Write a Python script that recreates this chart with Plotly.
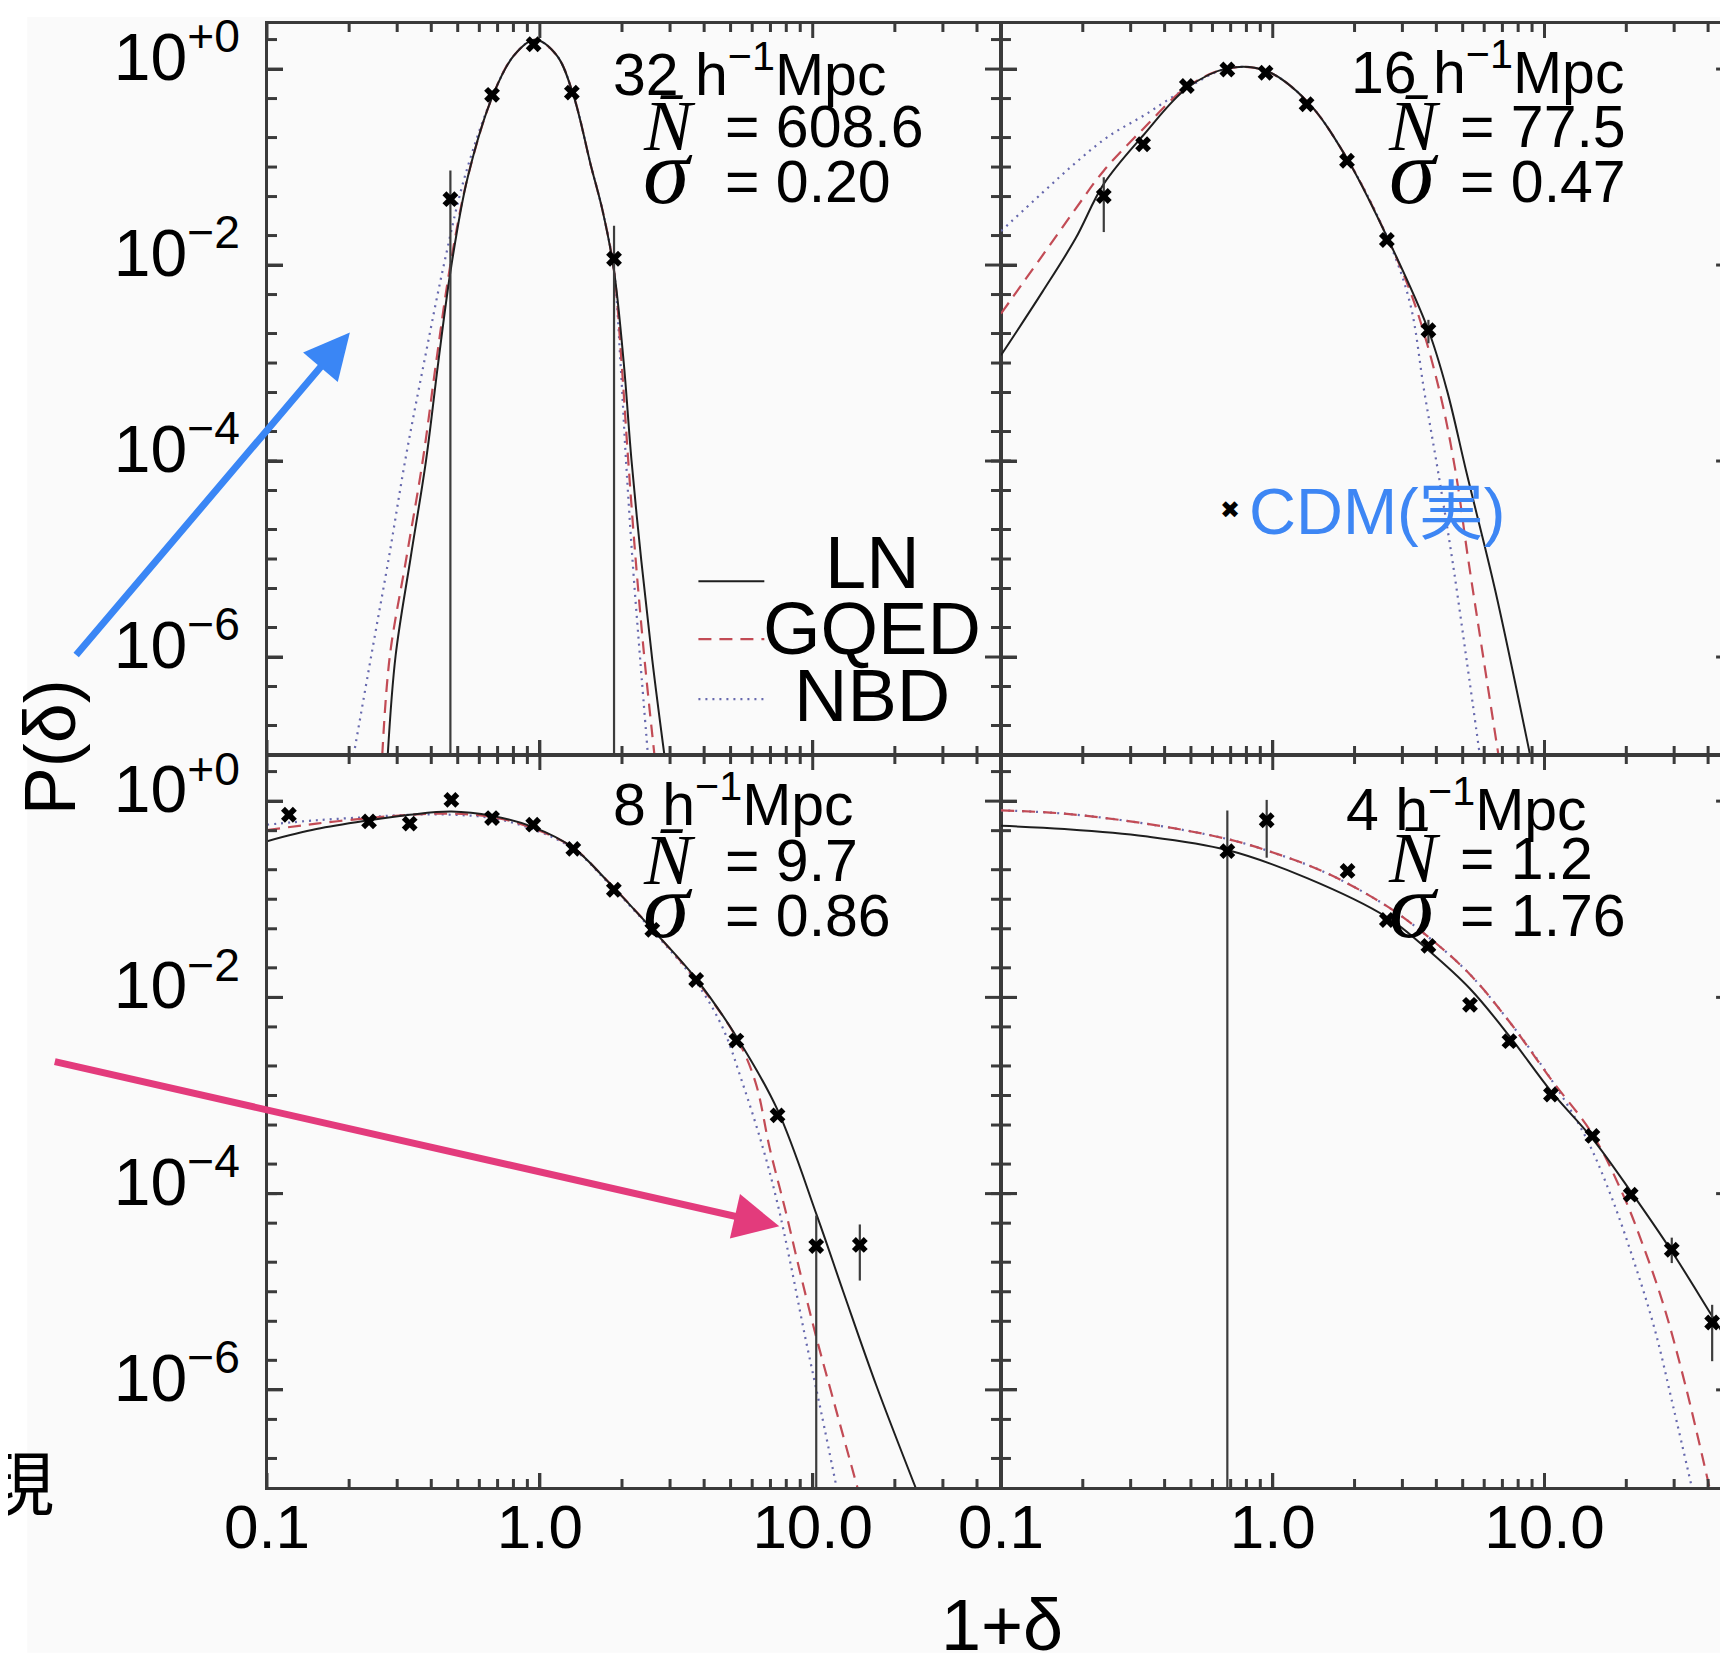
import plotly.graph_objects as go

# ---------------- data ----------------
scales = ["32", "16", "8", "4"]
nbar_vals = ["608.6", "77.5", "9.7", "1.2"]
sigma_vals = ["0.20", "0.47", "0.86", "1.76"]

x_major = [0.1, 1.0, 10.0]
x_labels = ["0.1", "1.0", "10.0"]
x_minor = [0.2, 0.3, 0.4, 0.5, 0.6, 0.7, 0.8, 0.9, 2, 3, 4, 5, 6, 7, 8, 9, 20, 30, 40]
y_major = [1, 1e-2, 1e-4, 1e-6]
y_labels = ["10<sup>+0</sup>", "10<sup>−2</sup>", "10<sup>−4</sup>", "10<sup>−6</sup>"]
y_minor = [2, 0.5, 0.2, 0.1, 0.05, 0.02, 5e-3, 2e-3, 1e-3, 5e-4, 2e-4, 1e-4, 5e-5, 2e-5, 1e-5,
           5e-6, 2e-6, 5e-7, 2e-7]

# --- 32 h^-1 Mpc (top left)
tl_x = [0.47, 0.668, 0.949, 1.31, 1.87]
tl_y = [0.047, 0.546, 1.79, 0.575, 0.0116]
tl_ep = [0.045, 0, 0, 0, 0.0136]
tl_em = [0.047, 0, 0, 0, 0.0116]
tl_ln_x = [0.277, 0.296, 0.336, 0.383, 0.424, 0.474, 0.544, 0.674, 0.804, 0.958, 1.153, 1.326,
           1.537, 1.70, 1.867, 2.03, 2.166, 2.355, 2.583, 2.86]
tl_ln_y = [1.0e-7, 1.03e-6, 1.03e-5, 1.03e-4, 1.0e-3, 0.0099, 0.0787, 0.546, 1.38, 1.99, 1.38,
           0.546, 0.1045, 0.0353, 0.00897, 1.0e-3, 1.03e-4, 9.5e-6, 9.3e-7, 1.0e-7]
tl_gq_x = [0.2645, 0.282, 0.3243, 0.3726, 0.4164, 0.4696, 0.544, 0.674, 0.804, 0.958, 1.153, 1.326,
           1.537, 1.70, 1.867, 1.993, 2.107, 2.247, 2.42, 2.63]
tl_gq_y = [1.0e-7, 1.03e-6, 1.03e-5, 1.03e-4, 1.0e-3, 0.0099, 0.0787, 0.546, 1.38, 1.99, 1.38,
           0.546, 0.1045, 0.0353, 0.00897, 1.0e-3, 1.03e-4, 9.5e-6, 9.3e-7, 1.0e-7]
tl_nb_x = [0.2078, 0.241, 0.2796, 0.3213, 0.376, 0.4443, 0.53, 0.674, 0.804, 0.958, 1.153, 1.326,
           1.537, 1.70, 1.867, 1.975, 2.068, 2.187, 2.333, 2.489]
tl_nb_y = [1.0e-7, 1.03e-6, 1.03e-5, 1.03e-4, 1.0e-3, 0.0099, 0.0787, 0.546, 1.38, 1.99, 1.38,
           0.546, 0.1045, 0.0353, 0.00897, 1.0e-3, 1.03e-4, 9.5e-6, 9.3e-7, 1.0e-7]

# --- 16 h^-1 Mpc (top right)
tr_x = [0.2389, 0.3334, 0.483, 0.6806, 0.941, 1.332, 1.876, 2.63, 3.74]
tr_y = [0.0507, 0.1707, 0.672, 0.99, 0.916, 0.4375, 0.116, 0.018, 0.00216]
tr_ep = [0.028, 0, 0, 0, 0, 0, 0, 0, 0.0006]
tr_em = [0.029, 0, 0, 0, 0, 0, 0, 0, 0.00057]
tr_ln_x = [0.1, 0.1422, 0.1878, 0.2389, 0.3334, 0.483, 0.6806, 0.941, 1.338, 1.867, 2.63, 3.74,
           4.38, 5.17, 6.58, 8.85]
tr_ln_y = [0.0012, 0.00535, 0.0185, 0.0673, 0.21, 0.638, 1.016, 0.964, 0.468, 0.1252, 0.0195,
           0.00216, 5.23e-4, 7.53e-5, 4.86e-6, 1.0e-7]
tr_gq_x = [0.1, 0.1422, 0.1878, 0.2389, 0.3334, 0.483, 0.6806, 0.941, 1.338, 1.867, 2.63, 3.317,
           4.105, 4.717, 5.222, 5.89, 6.77]
tr_gq_y = [0.00319, 0.01256, 0.0372, 0.0918, 0.245, 0.654, 1.016, 0.964, 0.468, 0.1252, 0.0195,
           0.00413, 5.23e-4, 7.53e-5, 1.056e-5, 1.2e-6, 1.0e-7]
tr_nb_x = [0.1, 0.1422, 0.1878, 0.2479, 0.3396, 0.483, 0.6806, 0.941, 1.338, 1.867, 2.63, 3.197,
           3.606, 4.067, 4.587, 5.17, 5.78]
tr_nb_y = [0.0222, 0.0548, 0.110, 0.2046, 0.343, 0.638, 1.016, 0.964, 0.468, 0.1252, 0.0195,
           0.00413, 5.23e-4, 7.53e-5, 9.5e-6, 9.3e-7, 1.0e-7]

# --- 8 h^-1 Mpc (bottom left)
bl_x = [0.1203, 0.2366, 0.3334, 0.474, 0.668, 0.9454, 1.326, 1.867, 2.583, 3.74, 5.25, 7.43,
        10.3, 14.88]
bl_y = [0.726, 0.6216, 0.590, 1.029, 0.672, 0.575, 0.326, 0.125, 0.0488, 0.01504, 0.00363,
        6.27e-4, 2.92e-5, 3.0e-5]
bl_ep = [0, 0, 0, 0, 0, 0, 0, 0, 0, 0, 0, 0, 3.05e-5, 1.85e-5]
bl_em = [0, 0, 0, 0, 0, 0, 0, 0, 0, 0, 0, 0, 2.92e-5, 1.7e-5]
bl_ln_x = [0.1, 0.1517, 0.2366, 0.3334, 0.474, 0.668, 0.941, 1.326, 1.766, 2.583, 3.74, 5.27,
           7.43, 10.36, 12.94, 17.09, 23.86]
bl_ln_y = [0.3903, 0.519, 0.638, 0.726, 0.784, 0.707, 0.546, 0.334, 0.154, 0.0494, 0.01544,
           0.003925, 7.13e-4, 5.97e-5, 1.0e-5, 1.115e-6, 1.0e-7]
bl_gq_x = [0.1, 0.1517, 0.2366, 0.3334, 0.474, 0.668, 0.941, 1.326, 1.766, 2.583, 3.74, 5.27,
           6.17, 6.96, 7.92, 8.94, 10.27, 11.8, 14.6]
bl_gq_y = [0.5056, 0.590, 0.672, 0.726, 0.745, 0.689, 0.532, 0.334, 0.154, 0.0494, 0.01504,
           0.003825, 0.00136, 2.88e-4, 6.97e-5, 1.68e-5, 3.57e-6, 8.6e-7, 1.0e-7]
bl_nb_x = [0.1, 0.1517, 0.2366, 0.3334, 0.474, 0.668, 0.941, 1.326, 1.766, 2.583, 3.74, 4.67,
           5.52, 6.58, 7.43, 8.30, 9.36, 10.75, 12.24]
bl_nb_y = [0.575, 0.638, 0.689, 0.726, 0.726, 0.672, 0.519, 0.326, 0.150, 0.0481, 0.01429,
           0.00495, 0.00136, 2.88e-4, 7.93e-5, 1.91e-5, 3.57e-6, 5.85e-7, 1.0e-7]

# --- 4 h^-1 Mpc (bottom right)
br_x = [0.6806, 0.950, 1.885, 2.63, 3.74, 5.32, 7.43, 10.56, 15.01, 20.76, 29.4, 41.4]
br_y = [0.3093, 0.638, 0.1943, 0.0614, 0.0335, 0.0084, 0.003576, 0.001024, 3.87e-4, 9.75e-5,
        2.68e-5, 4.86e-6]
br_ep = [0.495, 0.391, 0, 0, 0, 0, 0, 0, 0, 0, 0.88e-5, 2.5e-6]
br_em = [0.3093, 0.373, 0, 0, 0, 0, 0, 0, 0, 0, 0.72e-5, 2.9e-6]
br_ln_x = [0.1, 0.1711, 0.3396, 0.6806, 1.338, 2.63, 3.74, 5.32, 7.43, 10.56, 15.01, 20.76,
           29.5, 41.6, 49.6]
br_ln_y = [0.5605, 0.519, 0.4385, 0.3175, 0.1642, 0.0656, 0.0302, 0.01224, 0.004027, 0.001106,
           3.64e-4, 1.054e-4, 2.54e-5, 5.53e-6, 2.55e-6]
br_gq_x = [0.1, 0.1711, 0.3396, 0.6806, 0.995, 1.581, 2.63, 3.74, 5.32, 7.43, 10.56, 15.01,
           19.46, 23.2, 27.4, 33.0, 40.5]
br_gq_y = [0.805, 0.745, 0.590, 0.411, 0.3014, 0.1845, 0.085, 0.0412, 0.01712, 0.00564,
           0.00147, 4.04e-4, 9.75e-5, 2.82e-5, 7.36e-6, 1.115e-6, 1.0e-7]
br_nb_x = [0.1, 0.1711, 0.3396, 0.6806, 0.995, 1.581, 2.63, 3.74, 5.32, 7.43, 10.56, 14.2,
           17.57, 21.5, 25.5, 29.8, 34.9]
br_nb_y = [0.805, 0.745, 0.590, 0.411, 0.3014, 0.1845, 0.085, 0.0412, 0.01712, 0.00564,
           0.00147, 3.74e-4, 9.5e-5, 1.91e-5, 4.06e-6, 6.65e-7, 1.0e-7]

# ---------------- styling ----------------
W, H = 1728, 1666
ML, MR, MT, MB = 259, 2, 13, 186
PW = W - ML - MR
PH = H - MT - MB
XS = (994 - ML) / PW
YS = (H - MB - 746) / PH


def px(x):
    return (x - ML) / PW


def py(y):
    return (H - MB - y) / PH


SANS = "Liberation Sans, Arial, Helvetica, Noto Sans CJK JP"
SERIF = "Liberation Serif, Times New Roman, serif"
AXC = "#3a3a3a"
LN_C = "#1e1e1e"
GQ_C = "#c24b55"
NB_C = "#6668ad"
XR = [-1, 1.69]
YR = [-7, 0.47]
PX_PER_DEC_X = PW * XS / (XR[1] - XR[0])
PX_PER_DEC_Y = PH * (1 - YS) / (YR[1] - YR[0])

fig = go.Figure()

panels = [
    ("x", "y", tl_x, tl_y, tl_ep, tl_em, tl_ln_x, tl_ln_y, tl_gq_x, tl_gq_y, tl_nb_x, tl_nb_y),
    ("x2", "y2", tr_x, tr_y, tr_ep, tr_em, tr_ln_x, tr_ln_y, tr_gq_x, tr_gq_y, tr_nb_x, tr_nb_y),
    ("x3", "y3", bl_x, bl_y, bl_ep, bl_em, bl_ln_x, bl_ln_y, bl_gq_x, bl_gq_y, bl_nb_x, bl_nb_y),
    ("x4", "y4", br_x, br_y, br_ep, br_em, br_ln_x, br_ln_y, br_gq_x, br_gq_y, br_nb_x, br_nb_y),
]


def tick_segments(vals_y, len_y, vals_x, len_x):
    """short inside tick segments along the four edges, placed through the axis ranges"""
    xs, ys = [], []
    x_lo, x_hi = 10 ** XR[0], 10 ** XR[1]
    y_lo, y_hi = 10 ** YR[0], 10 ** YR[1]
    fx = 10 ** (len_y / PX_PER_DEC_X)
    fy = 10 ** (len_x / PX_PER_DEC_Y)
    for v in vals_y:
        xs += [x_lo, x_lo * fx, None, x_hi / fx, x_hi, None]
        ys += [v, v, None, v, v, None]
    for u in vals_x:
        xs += [u, u, None, u, u, None]
        ys += [y_lo, y_lo * fy, None, y_hi / fy, y_hi, None]
    return xs, ys


for xa, ya, dx, dy, ep, em, lnx, lny, gqx, gqy, nbx, nby in panels:
    fig.add_trace(go.Scatter(x=nbx, y=nby, xaxis=xa, yaxis=ya, mode="lines",
                             line=dict(color=NB_C, width=2.2, dash="2px,5px", shape="spline"),
                             showlegend=False, hoverinfo="skip"))
    fig.add_trace(go.Scatter(x=gqx, y=gqy, xaxis=xa, yaxis=ya, mode="lines",
                             line=dict(color=GQ_C, width=2.2, dash="13px,8px", shape="spline"),
                             showlegend=False, hoverinfo="skip"))
    fig.add_trace(go.Scatter(x=lnx, y=lny, xaxis=xa, yaxis=ya, mode="lines",
                             line=dict(color=LN_C, width=2.0, shape="spline"),
                             showlegend=False, hoverinfo="skip"))
    fig.add_trace(go.Scatter(x=dx, y=dy, xaxis=xa, yaxis=ya, mode="markers",
                             marker=dict(symbol="x", size=14, color="black", line=dict(width=0)),
                             error_y=dict(type="data", symmetric=False, array=ep, arrayminus=em,
                                          color="#3c3c3c", thickness=2.2, width=0),
                             showlegend=False))
    for vy, ly, vx, lx in [(y_minor, 10, x_minor, 9), (y_major, 16, x_major, 15)]:
        tx, ty = tick_segments(vy, ly, vx, lx)
        fig.add_trace(go.Scatter(x=tx, y=ty, xaxis=xa, yaxis=ya, mode="lines",
                                 line=dict(color=AXC, width=3), connectgaps=False,
                                 showlegend=False, hoverinfo="skip"))

TF = dict(family=SANS, size=62, color="black")
xbase = dict(type="log", range=XR, showgrid=False, zeroline=False, showline=True,
             linecolor=AXC, linewidth=1.8, mirror=True, ticks="inside", ticklen=15,
             tickwidth=3, tickcolor=AXC, tickmode="array", tickvals=x_major, ticktext=x_labels,
             tickfont=TF, ticklabelstandoff=-16)
ybase = dict(type="log", range=YR, showgrid=False, zeroline=False, showline=True,
             linecolor=AXC, linewidth=1.8, mirror=True, ticks="inside", ticklen=16,
             tickwidth=3, tickcolor=AXC, tickmode="array", tickvals=y_major, ticktext=y_labels,
             tickfont=dict(TF, size=66), ticklabelstandoff=12, ticklabelshift=-12)

fig.update_layout(
    width=W, height=H,
    margin=dict(l=ML, r=MR, t=MT, b=MB, pad=0),
    paper_bgcolor="white", plot_bgcolor="rgba(0,0,0,0)",
    showlegend=False,
    xaxis=dict(xbase, domain=[0, XS], anchor="y", showticklabels=False),
    yaxis=dict(ybase, domain=[YS, 1], anchor="x"),
    xaxis2=dict(xbase, domain=[XS, 1], anchor="y2", showticklabels=False),
    yaxis2=dict(ybase, domain=[YS, 1], anchor="x2", showticklabels=False),
    xaxis3=dict(xbase, domain=[0, XS], anchor="y3"),
    yaxis3=dict(ybase, domain=[0, YS], anchor="x3"),
    xaxis4=dict(xbase, domain=[XS, 1], anchor="y4"),
    yaxis4=dict(ybase, domain=[0, YS], anchor="x4", showticklabels=False),
)

fig.add_shape(type="rect", xref="paper", yref="paper", x0=px(19), x1=px(W + 5),
              y0=py(1645), y1=py(7), fillcolor="#fafafa", line=dict(width=0), layer="below")
fig.add_shape(type="rect", xref="paper", yref="paper", x0=0, x1=1, y0=0, y1=1,
              line=dict(color=AXC, width=2), layer="above")

ann = []
title_pos = [(603, 61), (1342, 59), (603, 792), (1337, 797)]
n_pos = [(634, 116), (1380, 116), (634, 851), (1380, 849)]
s_pos = [(634, 171), (1381, 171), (634, 906), (1381, 906)]
eq_x = [716, 1452, 716, 1452]
for i in range(4):
    tx, ty = title_pos[i]
    ann.append(dict(x=px(tx), y=py(ty), text=f"{scales[i]} h<sup>−1</sup>Mpc",
                    xanchor="left", yanchor="middle",
                    font=dict(family=SANS, size=59, color="black")))
    nx, ny = n_pos[i]
    ann.append(dict(x=px(nx), y=py(ny), text="<i>N\u0304</i>", xanchor="left", yanchor="middle",
                    font=dict(family=SERIF, size=72, color="black")))
    ann.append(dict(x=px(eq_x[i]), y=py(ny + 1), text=f"= {nbar_vals[i]}", xanchor="left",
                    yanchor="middle", font=dict(family=SANS, size=59, color="black")))
    sx, sy = s_pos[i]
    ann.append(dict(x=px(sx), y=py(sy - 10), text="<i>σ</i>", xanchor="left", yanchor="middle",
                    font=dict(family=SERIF, size=94, color="black")))
    ann.append(dict(x=px(eq_x[i]), y=py(sy + 1), text=f"= {sigma_vals[i]}", xanchor="left",
                    yanchor="middle", font=dict(family=SANS, size=59, color="black")))

for name, yc in [("LN", 553), ("GQED", 619), ("NBD", 686)]:
    ann.append(dict(x=px(865), y=py(yc), text=name, xanchor="center", yanchor="middle",
                    font=dict(family=SANS, size=74, color="black")))

ann.append(dict(x=px(1223), y=py(501), text="✖", xanchor="center", yanchor="middle",
                font=dict(family="DejaVu Sans", size=24, color="black")))
ann.append(dict(x=px(1240), y=py(502), text="CDM(実)", xanchor="left", yanchor="middle",
                font=dict(family=SANS, size=65, color="#3d86f4")))

ann.append(dict(x=px(42), y=py(738), text="P(δ)", textangle=-90, xanchor="center",
                yanchor="middle", font=dict(family=SANS, size=72, color="black")))
ann.append(dict(x=px(995), y=py(1617), text="1+δ", xanchor="center", yanchor="middle",
                font=dict(family=SANS, size=72, color="black")))

ann.append(dict(x=px(48), y=py(1471), text="現", xanchor="right", yanchor="middle",
                font=dict(family="Noto Sans CJK JP", size=70, color="black")))
ann.append(dict(x=px(5), y=py(280), text="る", xanchor="right", yanchor="middle",
                font=dict(family="Noto Sans CJK JP", size=70, color="black")))

ann.append(dict(x=px(342), y=py(323), ax=67 - 342, ay=647 - 323, text="", showarrow=True,
                arrowhead=2, arrowsize=1.3, arrowwidth=7, arrowcolor="#3a86f5"))
ann.append(dict(x=px(772), y=py(1218), ax=46 - 772, ay=1053 - 1218, text="", showarrow=True,
                arrowhead=2, arrowsize=1.3, arrowwidth=7, arrowcolor="#e33b7c"))

for a in ann:
    a.setdefault("xref", "paper")
    a.setdefault("yref", "paper")
    a.setdefault("showarrow", False)
fig.update_layout(annotations=ann)

for yl, col, dash in [(572, LN_C, "solid"), (630, GQ_C, "13px,8px"), (690, NB_C, "2px,5px")]:
    fig.add_shape(type="line", xref="paper", yref="paper", x0=px(691), x1=px(757),
                  y0=py(yl), y1=py(yl), line=dict(color=col, width=2.2, dash=dash))

fig.write_html("out.html")
